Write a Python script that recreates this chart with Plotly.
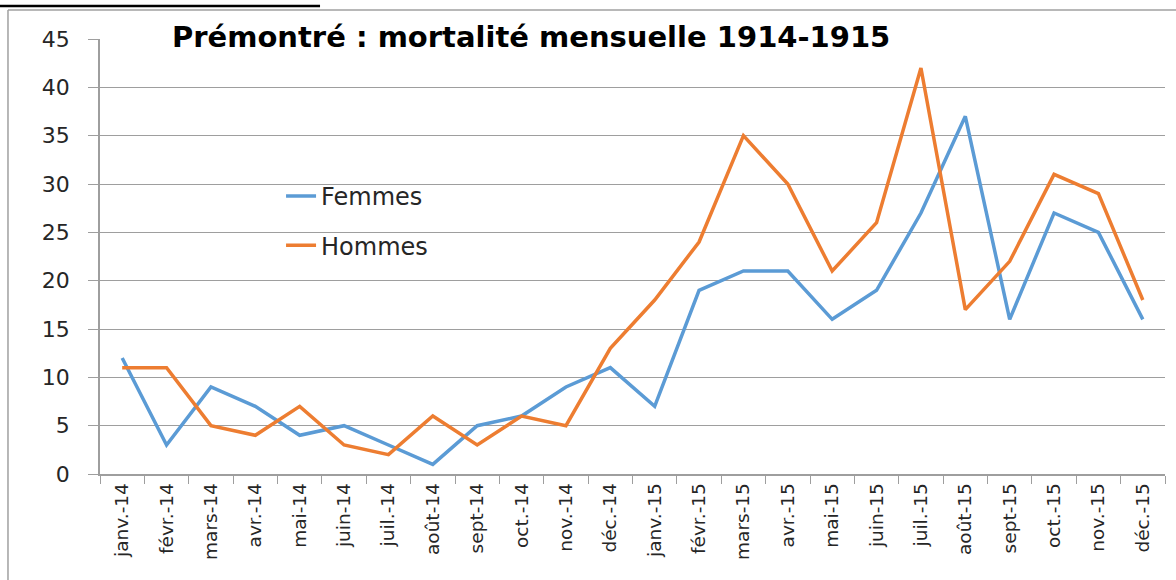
import plotly.graph_objects as go

# Monthly mortality at Prémontré, 1914-1915
months = ["janv.-14", "févr.-14", "mars-14", "avr.-14", "mai-14", "juin-14",
          "juil.-14", "août-14", "sept-14", "oct.-14", "nov.-14", "déc.-14",
          "janv.-15", "févr.-15", "mars-15", "avr.-15", "mai-15", "juin-15",
          "juil.-15", "août-15", "sept-15", "oct.-15", "nov.-15", "déc.-15"]
femmes = [12, 3, 9, 7, 4, 5, 3, 1, 5, 6, 9, 11,
          7, 19, 21, 21, 16, 19, 27, 37, 16, 27, 25, 16]
hommes = [11, 11, 5, 4, 7, 3, 2, 6, 3, 6, 5, 13,
          18, 24, 35, 30, 21, 26, 42, 17, 22, 31, 29, 18]

FONT = "DejaVu Sans"
TXT = "#262626"
GRID = "#9e9e9e"

fig = go.Figure()
fig.add_trace(go.Scatter(x=months, y=femmes, mode="lines", name="Femmes",
                         legendgroup="f",
                         line=dict(color="#5B9BD5", width=3.5)))
fig.add_trace(go.Scatter(x=months, y=hommes, mode="lines", name="Hommes",
                         legendgroup="h",
                         line=dict(color="#ED7D31", width=3.5)))

fig.update_layout(
    width=1176, height=580,
    margin=dict(l=100, r=11, t=39, b=106),
    paper_bgcolor="white", plot_bgcolor="white",
    font=dict(family=FONT, color=TXT),
    showlegend=True,
    legend=dict(x=0.17, y=0.69, xanchor="left", yanchor="top",
                font=dict(size=24, family=FONT, color=TXT),
                bgcolor="rgba(0,0,0,0)", tracegroupgap=15),
)

fig.update_xaxes(
    type="category", range=[-0.5, 23.5],
    showline=True, linecolor=GRID, linewidth=1.5,
    ticks="outside", tickson="boundaries", ticklen=8, tickcolor=GRID,
    tickangle=-90, tickfont=dict(size=18.5, family=FONT, color=TXT),
    showgrid=False, mirror=False,
)
fig.update_yaxes(
    range=[0, 45], dtick=5,
    showline=True, linecolor=GRID, linewidth=1.5,
    ticks="outside", ticklen=10, tickcolor=GRID,
    ticklabelstandoff=14,
    showgrid=True, gridcolor=GRID, gridwidth=1.3,
    tickfont=dict(size=22, family=FONT, color=TXT),
    zeroline=False, mirror=False,
)

fig.add_annotation(
    text="<b>Prémontré : mortalité mensuelle 1914-1915</b>",
    xref="paper", yref="paper", x=0.066, y=1.005, xanchor="left", yanchor="middle",
    showarrow=False, font=dict(size=29, family=FONT, color="black"),
)

# caption above the chart frame, cut off by the top edge
fig.add_annotation(
    text="1914 et décembre 1915",
    xref="paper", yref="paper", x=0.2066, y=1.078, xanchor="right", yanchor="bottom",
    showarrow=False, font=dict(size=25, family=FONT, color="black"),
)
fig.add_shape(type="line", xref="paper", yref="paper",
              x0=-0.1, x1=0.2066, y0=1.076, y1=1.076,
              line=dict(color="black", width=2.5))

# chart frame (left and top edges only show in the picture)
fig.add_shape(type="line", xref="paper", yref="paper",
              x0=-0.0864, x1=-0.0864, y0=-0.3, y1=1.0667,
              line=dict(color="#a0a0a0", width=1.5), layer="below")
fig.add_shape(type="line", xref="paper", yref="paper",
              x0=-0.0864, x1=1.2, y0=1.0667, y1=1.0667,
              line=dict(color="#a0a0a0", width=1.5), layer="below")

fig.write_html("out.html", config={"displayModeBar": False},
               post_script="document.body.style.margin='0';"
                           "document.body.style.overflow='hidden';"
                           "document.documentElement.style.overflow='hidden';")
